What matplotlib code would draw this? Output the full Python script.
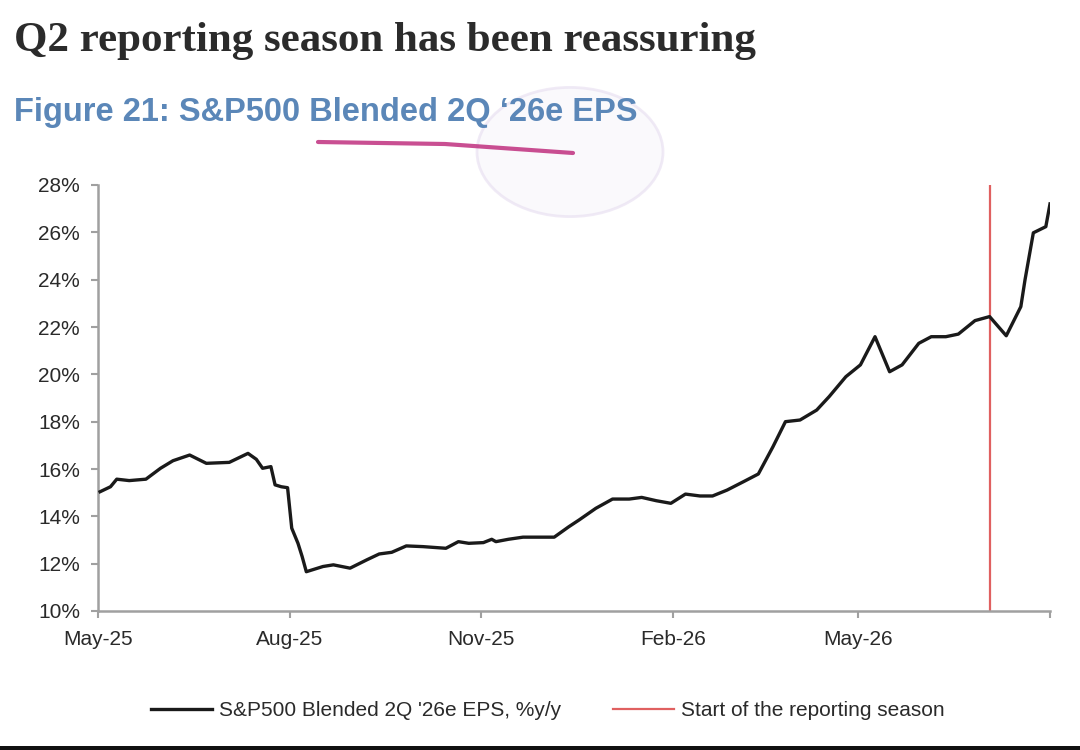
import matplotlib
matplotlib.use("Agg")
import matplotlib.pyplot as plt
from matplotlib.patches import Circle, Rectangle
from matplotlib.lines import Line2D
import pandas as pd

# ---------------- data ----------------
dates = [
    "2025-05-02", "2025-05-07", "2025-05-10", "2025-05-16", "2025-05-24", "2025-05-31",
    "2025-06-06", "2025-06-14", "2025-06-22", "2025-07-03", "2025-07-12", "2025-07-16",
    "2025-07-19", "2025-07-23", "2025-07-25", "2025-07-28", "2025-07-31", "2025-08-02",
    "2025-08-05", "2025-08-07", "2025-08-09", "2025-08-17", "2025-08-22", "2025-08-30",
    "2025-09-07", "2025-09-13", "2025-09-19", "2025-09-26", "2025-10-04", "2025-10-15",
    "2025-10-21", "2025-10-26", "2025-11-02", "2025-11-06", "2025-11-08", "2025-11-14",
    "2025-11-21", "2025-12-06", "2025-12-13", "2025-12-18", "2025-12-26", "2026-01-03",
    "2026-01-11", "2026-01-17", "2026-01-24", "2026-01-31", "2026-02-07", "2026-02-14",
    "2026-02-20", "2026-02-27", "2026-03-07", "2026-03-14", "2026-03-21", "2026-03-27",
    "2026-04-03", "2026-04-11", "2026-04-17", "2026-04-25", "2026-05-02", "2026-05-09",
    "2026-05-16", "2026-05-22", "2026-05-30", "2026-06-05", "2026-06-12", "2026-06-18",
    "2026-06-26", "2026-07-03", "2026-07-11", "2026-07-18", "2026-07-20", "2026-07-24",
    "2026-07-30", "2026-08-01",
]
eps_growth = [
    15.04, 15.25, 15.57, 15.51, 15.57, 16.03,
    16.35, 16.59, 16.24, 16.28, 16.66, 16.41,
    16.03, 16.10, 15.33, 15.25, 15.21, 13.50,
    12.86, 12.30, 11.66, 11.88, 11.95, 11.81,
    12.16, 12.41, 12.48, 12.75, 12.72, 12.65,
    12.93, 12.86, 12.89, 13.03, 12.93, 13.03,
    13.12, 13.12, 13.56, 13.85, 14.34, 14.73,
    14.73, 14.80, 14.66, 14.55, 14.94, 14.86,
    14.86, 15.11, 15.47, 15.79, 16.94, 18.00,
    18.07, 18.49, 19.06, 19.90, 20.40, 21.59,
    20.11, 20.40, 21.31, 21.59, 21.59, 21.70,
    22.27, 22.44, 21.63, 22.86, 23.99, 25.98,
    26.24, 27.20,
]
season_start = "2026-07-03"
tick_dates = ["2025-05-01", "2025-08-01", "2025-11-01", "2026-02-01", "2026-05-01", "2026-08-01"]
tick_labels = ["May-25", "Aug-25", "Nov-25", "Feb-26", "May-26", ""]
y_ticks = [10, 12, 14, 16, 18, 20, 22, 24, 26, 28]

title = "Q2 reporting season has been reassuring"
subtitle = "Figure 21: S&P500 Blended 2Q \u201826e EPS"
series_label = "S&P500 Blended 2Q '26e EPS, %y/y"
vline_label = "Start of the reporting season"

# ---------------- style ----------------
sans = ["Liberation Sans", "DejaVu Sans"]
plt.rcParams["font.family"] = sans

x = pd.to_datetime(dates)
W, H = 1080, 750
fig = plt.figure(figsize=(W / 100, H / 100), dpi=100)
fig.patch.set_facecolor("white")

ax = fig.add_axes([98 / W, 1 - 611 / H, (1050 - 98) / W, (611 - 185) / H])
ax.plot(x, eps_growth, color="#1a1a1a", lw=2.4, label=series_label, zorder=3)
ax.axvline(pd.Timestamp(season_start), color="#e06060", lw=1.6, label=vline_label, zorder=2)

ax.set_ylim(10, 28)
ax.set_xlim(pd.Timestamp(tick_dates[0]), pd.Timestamp(tick_dates[-1]))
ax.set_yticks(y_ticks)
ax.set_yticklabels([f"{v}%" for v in y_ticks])
ax.set_xticks(pd.to_datetime(tick_dates))
ax.set_xticklabels(tick_labels)

for s in ["top", "right"]:
    ax.spines[s].set_visible(False)
for s in ["left", "bottom"]:
    ax.spines[s].set_color("#a0a0a0")
    ax.spines[s].set_linewidth(1.8)
ax.tick_params(axis="both", direction="out", length=5, width=1.5, color="#a0a0a0",
               labelsize=15, labelcolor="#2a2a2a")
ax.tick_params(axis="x", pad=9)
ax.tick_params(axis="y", pad=8)

# titles
fig.text(14 / W, 1 - 51 / H, title, fontsize=31, fontweight="bold",
         family=["Liberation Serif", "DejaVu Serif"], color="#2b2b2b", ha="left", va="baseline")
fig.text(14 / W, 1 - 121 / H, subtitle, fontsize=23.5, fontweight="bold",
         family=sans, color="#5b87b8", ha="left", va="baseline")

# screen annotations (pink underline, faint circle)
fig.add_artist(Line2D([318 / W, 445 / W, 573 / W], [1 - 142 / H, 1 - 144 / H, 1 - 153 / H],
                      color="#c0307f", lw=3, alpha=0.85, solid_capstyle="round"))
circ = Circle((570 / W, 1 - 152 / H), 93 / W, transform=fig.transFigure, facecolor="#f8f5fb",
              edgecolor="#e6ddf0", lw=2, alpha=0.6, zorder=0)
fig.patches.append(circ)

# legend
handles = [Line2D([], [], color="#1a1a1a", lw=2.4), Line2D([], [], color="#e06060", lw=1.6)]
fig.legend(handles, [series_label, vline_label], loc="center", ncol=2,
           bbox_to_anchor=(548 / W, 1 - 711 / H), frameon=False, fontsize=15,
           handlelength=2.9, handletextpad=0.35, columnspacing=2.5, labelcolor="#2a2a2a")

# dark bar at bottom of screenshot
fig.patches.append(Rectangle((0, 0), 1, 4 / H, transform=fig.transFigure,
                             facecolor="#111111", edgecolor="none"))

fig.savefig("out.png", dpi=100)
